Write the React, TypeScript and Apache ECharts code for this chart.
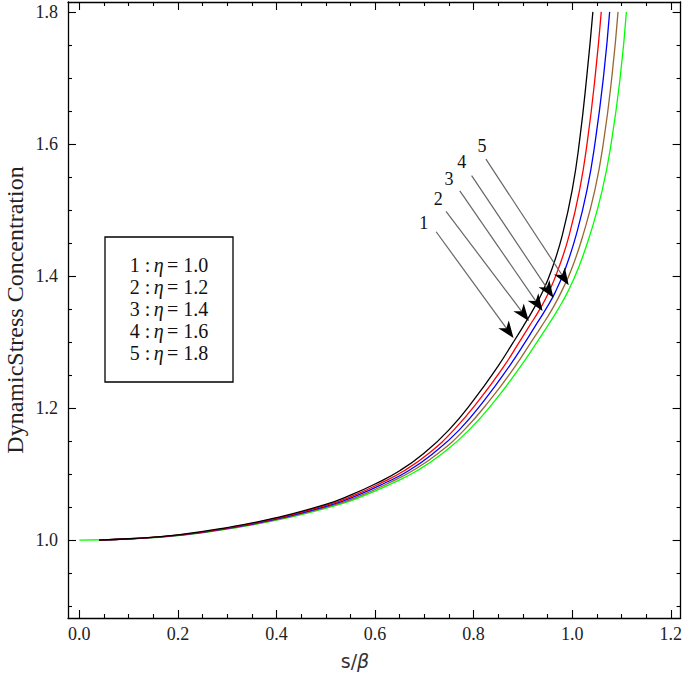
import React, { useEffect, useRef } from "react";
import * as echarts from "echarts";

// ---- data ----
const levels = [1.0, 1.002, 1.008, 1.019, 1.034, 1.054, 1.068, 1.085, 1.105, 1.132, 1.167, 1.212, 1.264, 1.299, 1.323, 1.348, 1.376, 1.413, 1.462, 1.53, 1.605, 1.705, 1.8];
const s1 = [0.04, 0.1, 0.2, 0.3, 0.4, 0.5, 0.55, 0.6, 0.65, 0.7, 0.75, 0.8, 0.85, 0.88, 0.9, 0.92, 0.94, 0.96, 0.98, 1.0, 1.015, 1.03, 1.042];
const s2 = [0.04, 0.102, 0.204, 0.305, 0.406, 0.507, 0.558, 0.608, 0.659, 0.71, 0.76, 0.811, 0.862, 0.892, 0.912, 0.933, 0.953, 0.973, 0.994, 1.015, 1.031, 1.047, 1.059];
const s3 = [0.04, 0.104, 0.208, 0.31, 0.412, 0.514, 0.565, 0.616, 0.668, 0.719, 0.771, 0.822, 0.873, 0.904, 0.924, 0.945, 0.966, 0.987, 1.008, 1.03, 1.047, 1.064, 1.076];
const s4 = [0.04, 0.106, 0.212, 0.315, 0.418, 0.521, 0.573, 0.624, 0.676, 0.729, 0.781, 0.833, 0.885, 0.916, 0.937, 0.958, 0.978, 1.0, 1.022, 1.046, 1.064, 1.081, 1.093];
const s5 = [0.0, 0.108, 0.216, 0.32, 0.424, 0.528, 0.58, 0.632, 0.685, 0.738, 0.791, 0.844, 0.896, 0.928, 0.949, 0.97, 0.991, 1.013, 1.036, 1.061, 1.08, 1.098, 1.11];
const curveS = [s1, s2, s3, s4, s5];
const etaValues = ["1.0", "1.2", "1.4", "1.6", "1.8"];
const curveColors = ["#000000", "#ff0000", "#0000ff", "#996633", "#00ff00"];

const xMajor = [0, 0.2, 0.4, 0.6, 0.8, 1.0, 1.2];
const xMinor = [0.05, 0.1, 0.15, 0.25, 0.3, 0.35, 0.45, 0.5, 0.55, 0.65, 0.7, 0.75, 0.85, 0.9, 0.95, 1.05, 1.1, 1.15];
const yMajor = [1.0, 1.2, 1.4, 1.6, 1.8];
const yMinor = [0.9, 0.95, 1.05, 1.1, 1.15, 1.25, 1.3, 1.35, 1.45, 1.5, 1.55, 1.65, 1.7, 1.75];
const X_MIN = -0.023;
const X_MAX = 1.22;
const Y_MIN = 0.882;
const Y_MAX = 1.815;

const arrowStarts = [[0.724, 1.467], [0.744, 1.498], [0.772, 1.529], [0.796, 1.552], [0.825, 1.577]];
const arrowTips = [[0.881, 1.306], [0.912, 1.332], [0.94, 1.347], [0.962, 1.367], [0.993, 1.386]];
const arrowLabels = [[0.699, 1.48], [0.728, 1.517], [0.75, 1.547], [0.776, 1.573], [0.817, 1.597]];

const SERIF = "Liberation Serif, Times New Roman, serif";

function xAxis(position: string, ticks: number[], len: number, labels: boolean, line: boolean) {
  return {
    type: "value",
    min: X_MIN,
    max: X_MAX,
    position,
    axisLine: { show: line, onZero: false, lineStyle: { color: "#000", width: 1.3 } },
    axisTick: { show: true, inside: true, length: len, customValues: ticks, lineStyle: { color: "#000", width: 1.1 } },
    axisLabel: labels
      ? { show: true, customValues: ticks, formatter: (v: number) => v.toFixed(1), fontFamily: SERIF, fontSize: 18, color: "#222", margin: 7 }
      : { show: false },
    splitLine: { show: false },
  };
}
function yAxis(position: string, ticks: number[], len: number, labels: boolean, line: boolean) {
  return {
    type: "value",
    min: Y_MIN,
    max: Y_MAX,
    position,
    axisLine: { show: line, onZero: false, lineStyle: { color: "#000", width: 1.3 } },
    axisTick: { show: true, inside: true, length: len, customValues: ticks, lineStyle: { color: "#000", width: 1.1 } },
    axisLabel: labels
      ? { show: true, customValues: ticks, formatter: (v: number) => v.toFixed(1), fontFamily: SERIF, fontSize: 18, color: "#222", margin: 10 }
      : { show: false },
    splitLine: { show: false },
  };
}

export default function App() {
  const ref = useRef<HTMLDivElement>(null);
  useEffect(() => {
    if (!ref.current) return;
    const chart = echarts.init(ref.current, null, { renderer: "svg" });
    const series: any[] = curveS.map((s, i) => ({
      type: "line",
      xAxisIndex: 0,
      yAxisIndex: 0,
      data: s.map((x, j) => [x, levels[j]]),
      showSymbol: false,
      smooth: 0.5,
      lineStyle: { color: curveColors[i], width: 1.3 },
      z: 3 + (4 - i),
    }));
    const legendTexts = etaValues.map((e, i) => ({
      type: "text",
      x: 169,
      y: 265 + i * 22,
      style: {
        text: `{a|${i + 1} :} {b|η} {a|= ${e}}`,
        textAlign: "center",
        textVerticalAlign: "middle",
        rich: {
          a: { fontFamily: SERIF, fontSize: 20, fill: "#111" },
          b: { fontFamily: SERIF, fontSize: 20, fontStyle: "italic", fill: "#111" },
        },
      },
    }));
    const option: any = {
      animation: false,
      backgroundColor: "#fff",
      grid: { left: 68, right: 3, top: 2, bottom: 64, containLabel: false },
      xAxis: [
        xAxis("bottom", xMajor, 8, true, true),
        xAxis("bottom", xMinor, 4, false, false),
        xAxis("top", xMajor, 8, false, true),
        xAxis("top", xMinor, 4, false, false),
      ],
      yAxis: [
        yAxis("left", yMajor, 8, true, true),
        yAxis("left", yMinor, 4, false, false),
        yAxis("right", yMajor, 8, false, true),
        yAxis("right", yMinor, 4, false, false),
      ],
      series,
      graphic: [
        {
          type: "text",
          x: 15,
          y: 310,
          rotation: Math.PI / 2,
          style: {
            text: "DynamicStress Concentration",
            fontFamily: SERIF,
            fontSize: 24,
            fill: "#222",
            textAlign: "center",
            textVerticalAlign: "middle",
          },
        },
        {
          type: "text",
          x: 355,
          y: 661,
          style: {
            text: "{s|s/}{b|β}",
            textAlign: "center",
            textVerticalAlign: "middle",
            rich: {
              s: { fontFamily: "DejaVu Sans, sans-serif", fontSize: 19, fill: "#333" },
              b: { fontFamily: "DejaVu Sans, sans-serif", fontSize: 19, fontStyle: "italic", fill: "#333" },
            },
          },
        },
        {
          type: "rect",
          shape: { x: 105, y: 237, width: 128, height: 145 },
          style: { fill: "#fff", stroke: "#000", lineWidth: 1.3 },
          z: 10,
        },
        ...legendTexts.map((t) => ({ ...t, z: 11 })),
      ],
    };
    chart.setOption(option);

    const px = (p: number[]) => chart.convertToPixel({ xAxisIndex: 0, yAxisIndex: 0 } as any, p) as number[];
    const arrows: any[] = [];
    arrowStarts.forEach((st, i) => {
      const a = px(st);
      const t = px(arrowTips[i]);
      const dx = t[0] - a[0];
      const dy = t[1] - a[1];
      const len = Math.hypot(dx, dy);
      const ux = dx / len;
      const uy = dy / len;
      const nx = -uy;
      const ny = ux;
      const L = 17;
      const W = 6.5;
      const bx = t[0] - ux * L;
      const by = t[1] - uy * L;
      const notch = [t[0] - ux * L * 0.72, t[1] - uy * L * 0.72];
      arrows.push({
        type: "line",
        shape: { x1: a[0], y1: a[1], x2: notch[0], y2: notch[1] },
        style: { stroke: "#666", lineWidth: 1.2 },
        z: 20,
      });
      arrows.push({
        type: "polygon",
        shape: { points: [[t[0], t[1]], [bx + nx * W, by + ny * W], notch, [bx - nx * W, by - ny * W]] },
        style: { fill: "#000" },
        z: 21,
      });
      const lp = px(arrowLabels[i]);
      arrows.push({
        type: "text",
        x: lp[0],
        y: lp[1],
        style: {
          text: String(i + 1),
          fontFamily: SERIF,
          fontSize: 18,
          fill: "#111",
          textAlign: "center",
          textVerticalAlign: "middle",
        },
        z: 21,
      });
    });
    chart.setOption({ graphic: [...option.graphic, ...arrows] });

    return () => chart.dispose();
  }, []);
  return <div ref={ref} style={{ position: "fixed", left: 0, top: 0, width: 685, height: 682 }} />;
}
